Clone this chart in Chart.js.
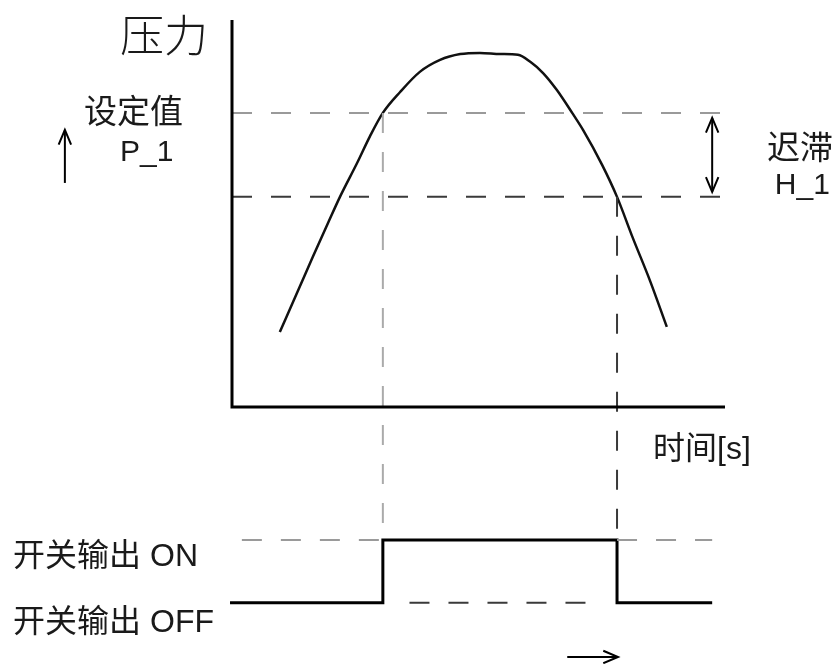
<!DOCTYPE html>
<html>
<head>
<meta charset="utf-8">
<script src="https://cdn.jsdelivr.net/npm/chart.js@4"></script>
<style>
  body { margin: 0; background: #fff; }
  canvas { display: block; }
</style>
</head>
<body>
<canvas id="diagram" width="837" height="664"></canvas>
<script>
// pressure curve, time in s, pressure in arbitrary units
const curveTime     = [0.97, 1.32, 1.64, 1.95, 2.19, 2.54, 2.80, 3.06, 3.41, 3.81, 4.22, 4.63, 5.03, 5.44, 5.80, 6.05, 6.31, 6.59, 6.90, 7.12, 7.51, 7.81, 8.13, 8.48, 8.82];
const curvePressure = [1.94, 2.95, 3.88, 4.76, 5.43, 6.31, 7.00, 7.60, 8.14, 8.66, 8.97, 9.12, 9.15, 9.12, 9.10, 8.92, 8.63, 8.19, 7.60, 7.16, 6.25, 5.43, 4.37, 3.26, 2.07];

const setPoint = 7.60;      // P_1
const resetPoint = 5.43;    // P_1 - H_1
const levelOn = -3.44;
const levelOff = -5.06;
const tOn = 3.06;
const tOff = 7.81;
const tEnd = 9.96;
const axisTop = 10;
const axisRight = 10;

// switch output trace
const switchTime  = [-0.04, tOn, tOn, tOff, tOff, 9.74];
const switchLevel = [levelOff, levelOff, levelOn, levelOn, levelOff, levelOff];

function pts(xs, ys) {
    return xs.map((x, i) => ({ x: x, y: ys[i] }));
}

const grey = '#9a9a9a';
const dark = '#3a3a3a';
const dash = [20, 19];

let datasets = [
    { data: pts([0, 0, axisRight], [axisTop, 0, 0]), borderColor: '#000', borderWidth: 3 },
    { data: pts([0, tEnd], [setPoint, setPoint]), borderColor: grey, borderWidth: 2, borderDash: dash },
    { data: pts([0, tEnd], [resetPoint, resetPoint]), borderColor: dark, borderWidth: 2, borderDash: dash },
    { data: pts([tOn, tOn], [setPoint, levelOn]), borderColor: '#aaa', borderWidth: 2, borderDash: dash },
    { data: pts([tOff, tOff], [resetPoint, levelOn]), borderColor: dark, borderWidth: 2, borderDash: dash },
    { data: pts([0.2, tOn], [levelOn, levelOn]), borderColor: grey, borderWidth: 2, borderDash: dash },
    { data: pts([tOff, 9.74], [levelOn, levelOn]), borderColor: grey, borderWidth: 2, borderDash: dash },
    { data: pts([3.6, 7.46], [levelOff, levelOff]), borderColor: dark, borderWidth: 2, borderDash: dash },
    { data: pts(switchTime, switchLevel), borderColor: '#000', borderWidth: 3 },
    { data: pts(curveTime, curvePressure), borderColor: '#111', borderWidth: 2.5, cubicInterpolationMode: 'monotone' }
];
datasets.forEach(d => { d.showLine = true; d.pointRadius = 0; d.fill = false; });

// arrows: [x1, y1, x2, y2, double-headed]
const arrows = [
    [-3.39, 5.79, -3.39, 7.16, false],
    [9.74, 5.56, 9.74, 7.47, true],
    [6.80, -6.46, 7.83, -6.46, false]
];

const latin = '"Liberation Sans", "Noto Sans CJK SC", sans-serif';
const texts = [
    { text: '压力', x: -1.38, y: 9.61, font: '300 44px "Noto Sans CJK SC"', align: 'center' },
    { text: '设定值', x: -2.0, y: 7.67, font: '33px "Noto Sans CJK SC"', align: 'center' },
    { text: 'P_1', x: -2.27, y: 6.56, font: '30px ' + latin, align: 'left' },
    { text: '迟滞', x: 10.85, y: 6.74, font: '33px "Noto Sans CJK SC"', align: 'left' },
    { text: 'H_1', x: 11.01, y: 5.71, font: '30px ' + latin, align: 'left' },
    { text: '时间[s]', x: 8.54, y: -1.11, font: '32px ' + latin, align: 'left' },
    { text: '开关输出 ON', x: -4.44, y: -3.88, font: '32px ' + latin, align: 'left' },
    { text: '开关输出 OFF', x: -4.44, y: -5.58, font: '32px ' + latin, align: 'left' }
];

function head(ctx, fx, fy, tx, ty) {
    const a = Math.atan2(ty - fy, tx - fx);
    const len = 16, half = 0.4;
    ctx.beginPath();
    ctx.moveTo(tx - len * Math.cos(a - half), ty - len * Math.sin(a - half));
    ctx.lineTo(tx, ty);
    ctx.lineTo(tx - len * Math.cos(a + half), ty - len * Math.sin(a + half));
    ctx.stroke();
}

const decorations = {
    id: 'decorations',
    afterDraw(chart) {
        const ctx = chart.ctx, sx = chart.scales.x, sy = chart.scales.y;
        ctx.save();
        ctx.strokeStyle = '#000';
        ctx.lineWidth = 2;
        arrows.forEach(a => {
            const x1 = sx.getPixelForValue(a[0]), y1 = sy.getPixelForValue(a[1]);
            const x2 = sx.getPixelForValue(a[2]), y2 = sy.getPixelForValue(a[3]);
            ctx.beginPath();
            ctx.moveTo(x1, y1);
            ctx.lineTo(x2, y2);
            ctx.stroke();
            head(ctx, x1, y1, x2, y2);
            if (a[4]) head(ctx, x2, y2, x1, y1);
        });
        ctx.fillStyle = '#1a1a1a';
        ctx.textBaseline = 'middle';
        texts.forEach(t => {
            ctx.font = t.font;
            ctx.textAlign = t.align;
            ctx.fillText(t.text, sx.getPixelForValue(t.x), sy.getPixelForValue(t.y));
        });
        ctx.restore();
    }
};

new Chart(document.getElementById('diagram'), {
    type: 'scatter',
    data: { datasets: datasets },
    options: {
        responsive: false,
        animation: false,
        layout: { padding: 0 },
        scales: {
            x: { type: 'linear', min: -4.706, max: 12.272, display: false },
            y: { type: 'linear', min: -6.641, max: 10.517, display: false }
        },
        plugins: { legend: { display: false }, tooltip: { enabled: false } }
    },
    plugins: [decorations]
});
</script>
</body>
</html>
